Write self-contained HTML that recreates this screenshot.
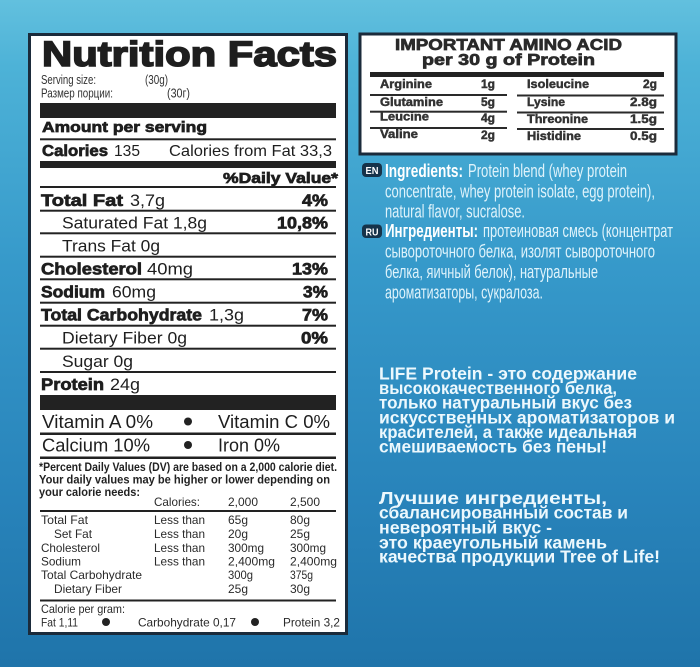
<!DOCTYPE html>
<html><head><meta charset="utf-8"><style>
html,body{margin:0;padding:0;width:700px;height:667px;overflow:hidden;background:#2a86bd}
svg{display:block}
text{font-family:"Liberation Sans","DejaVu Sans",sans-serif}
.k{fill:#1e1e1e}
.b{font-weight:bold}
.h{font-weight:bold;stroke:#1e1e1e;stroke-width:.7}
.a{font-weight:bold;fill:#333;stroke:#333;stroke-width:.45;font-size:11.5px}
.w{fill:#dff3fb;font-size:18px}
.m{fill:#ecf8fd;font-size:17.5px;font-weight:bold}
</style></head><body>
<svg width="700" height="667" viewBox="0 0 700 667" xmlns="http://www.w3.org/2000/svg">
<defs>
<linearGradient id="bg" x1="0" y1="0" x2="0" y2="1">
<stop offset="0" stop-color="#62c0de"/>
<stop offset="0.1" stop-color="#4db2d7"/>
<stop offset="0.4" stop-color="#3699ca"/>
<stop offset="0.75" stop-color="#2883ba"/>
<stop offset="1" stop-color="#1f74aa"/>
</linearGradient>
<radialGradient id="hl" cx="0.5" cy="0" r="0.5">
<stop offset="0" stop-color="#bfeaf6" stop-opacity="0.6"/>
<stop offset="1" stop-color="#bfeaf6" stop-opacity="0"/>
</radialGradient>
</defs>
<rect width="700" height="667" fill="url(#bg)"/>
<ellipse cx="330" cy="0" rx="330" ry="60" fill="url(#hl)"/>

<!-- Nutrition box -->
<rect x="29.5" y="34.5" width="317" height="599" fill="#fff" stroke="#1b2b3b" stroke-width="3"/>
<text class="k h" x="42" y="66" font-size="35" textLength="295" lengthAdjust="spacingAndGlyphs" style="stroke-width:1.6">Nutrition Facts</text>
<text fill="#333" x="41" y="84" font-size="12.5" textLength="55" lengthAdjust="spacingAndGlyphs">Serving size:</text>
<text fill="#333" x="145" y="84" font-size="12.5" textLength="23" lengthAdjust="spacingAndGlyphs">(30g)</text>
<text fill="#333" x="41" y="97.5" font-size="12.5" textLength="72" lengthAdjust="spacingAndGlyphs">Размер порции:</text>
<text fill="#333" x="167" y="97.5" font-size="12.5" textLength="23" lengthAdjust="spacingAndGlyphs">(30г)</text>
<rect x="40" y="103" width="296" height="15" fill="#222"/>
<text class="k h" x="42" y="132" font-size="15" textLength="165" lengthAdjust="spacingAndGlyphs">Amount per serving</text>
<rect x="40" y="138.3" width="296" height="2" fill="#222"/>
<text class="k h" x="42" y="156" font-size="16" textLength="66" lengthAdjust="spacingAndGlyphs">Calories</text>
<text class="k" x="114" y="156" font-size="16" textLength="26" lengthAdjust="spacingAndGlyphs">135</text>
<text class="k" x="169" y="156" font-size="16" textLength="163" lengthAdjust="spacingAndGlyphs">Calories from Fat 33,3</text>
<rect x="40" y="161" width="296" height="7" fill="#222"/>
<text class="k h" x="223" y="183" font-size="15" textLength="115" lengthAdjust="spacingAndGlyphs">%Daily Value*</text>
<rect x="40" y="186" width="296" height="2" fill="#222"/>

<g fill="#222">
<rect x="40" y="209.7" width="296" height="2"/>
<rect x="40" y="232.3" width="296" height="2"/>
<rect x="40" y="255.7" width="296" height="2"/>
<rect x="40" y="278.3" width="296" height="2"/>
<rect x="40" y="301.7" width="296" height="2"/>
<rect x="40" y="324.7" width="296" height="2"/>
<rect x="40" y="347.7" width="296" height="2"/>
<rect x="40" y="371" width="296" height="2"/>
</g>
<g font-size="17">
<text class="k h" x="41" y="206" textLength="82" lengthAdjust="spacingAndGlyphs">Total Fat</text>
<text class="k" x="130" y="206" textLength="35" lengthAdjust="spacingAndGlyphs">3,7g</text>
<text class="k h" x="302" y="206" textLength="26" lengthAdjust="spacingAndGlyphs">4%</text>
<text class="k" x="62" y="228.5" textLength="145" lengthAdjust="spacingAndGlyphs">Saturated Fat 1,8g</text>
<text class="k h" x="277" y="228.5" textLength="51" lengthAdjust="spacingAndGlyphs">10,8%</text>
<text class="k" x="62" y="251.5" textLength="98" lengthAdjust="spacingAndGlyphs">Trans Fat 0g</text>
<text class="k h" x="41" y="274.5" textLength="101" lengthAdjust="spacingAndGlyphs">Cholesterol</text>
<text class="k" x="147" y="274.5" textLength="46" lengthAdjust="spacingAndGlyphs">40mg</text>
<text class="k h" x="292" y="274.5" textLength="36" lengthAdjust="spacingAndGlyphs">13%</text>
<text class="k h" x="41" y="297.5" textLength="64" lengthAdjust="spacingAndGlyphs">Sodium</text>
<text class="k" x="112" y="297.5" textLength="44" lengthAdjust="spacingAndGlyphs">60mg</text>
<text class="k h" x="303" y="297.5" textLength="25" lengthAdjust="spacingAndGlyphs">3%</text>
<text class="k h" x="41" y="320.5" textLength="161" lengthAdjust="spacingAndGlyphs">Total Carbohydrate</text>
<text class="k" x="209" y="320.5" textLength="35" lengthAdjust="spacingAndGlyphs">1,3g</text>
<text class="k h" x="302" y="320.5" textLength="26" lengthAdjust="spacingAndGlyphs">7%</text>
<text class="k" x="62" y="343.5" textLength="125" lengthAdjust="spacingAndGlyphs">Dietary Fiber 0g</text>
<text class="k h" x="301" y="343.5" textLength="27" lengthAdjust="spacingAndGlyphs">0%</text>
<text class="k" x="62" y="367" textLength="71" lengthAdjust="spacingAndGlyphs">Sugar 0g</text>
<text class="k h" x="41" y="390" textLength="63" lengthAdjust="spacingAndGlyphs">Protein</text>
<text class="k" x="110" y="390" textLength="30" lengthAdjust="spacingAndGlyphs">24g</text>
</g>
<rect x="40" y="395" width="296" height="15" fill="#222"/>

<g font-size="18">
<text class="k" x="42" y="428" textLength="111" lengthAdjust="spacingAndGlyphs">Vitamin A 0%</text>
<text class="k" x="218" y="428" textLength="112" lengthAdjust="spacingAndGlyphs">Vitamin C 0%</text>
<text class="k" x="42" y="451.5" textLength="108" lengthAdjust="spacingAndGlyphs">Calcium 10%</text>
<text class="k" x="218" y="451.5" textLength="62" lengthAdjust="spacingAndGlyphs">Iron 0%</text>
</g>
<circle cx="188" cy="421.5" r="4" fill="#222"/>
<circle cx="188" cy="445" r="4" fill="#222"/>
<rect x="40" y="432.5" width="296" height="2.5" fill="#222"/>
<rect x="40" y="456.5" width="296" height="2.5" fill="#222"/>

<g font-size="12" font-weight="bold" fill="#222">
<text x="39" y="471" textLength="298" lengthAdjust="spacingAndGlyphs">*Percent Daily Values (DV) are based on a 2,000 calorie diet.</text>
<text x="39" y="483.5" textLength="291" lengthAdjust="spacingAndGlyphs">Your daily values may be higher or lower depending on</text>
<text x="39" y="496" textLength="101" lengthAdjust="spacingAndGlyphs">your calorie needs:</text>
</g>
<g font-size="12" fill="#2a2a2a">
<text x="154" y="506" textLength="46" lengthAdjust="spacingAndGlyphs">Calories:</text>
<text x="228" y="506" textLength="30" lengthAdjust="spacingAndGlyphs">2,000</text>
<text x="290" y="506" textLength="30" lengthAdjust="spacingAndGlyphs">2,500</text>

<text x="41" y="524" textLength="47" lengthAdjust="spacingAndGlyphs">Total Fat</text>
<text x="154" y="524" textLength="51" lengthAdjust="spacingAndGlyphs">Less than</text>
<text x="228" y="524" textLength="20" lengthAdjust="spacingAndGlyphs">65g</text>
<text x="290" y="524" textLength="20" lengthAdjust="spacingAndGlyphs">80g</text>

<text x="54" y="538" textLength="38" lengthAdjust="spacingAndGlyphs">Set Fat</text>
<text x="154" y="538" textLength="51" lengthAdjust="spacingAndGlyphs">Less than</text>
<text x="228" y="538" textLength="20" lengthAdjust="spacingAndGlyphs">20g</text>
<text x="290" y="538" textLength="20" lengthAdjust="spacingAndGlyphs">25g</text>

<text x="41" y="552" textLength="59" lengthAdjust="spacingAndGlyphs">Cholesterol</text>
<text x="154" y="552" textLength="51" lengthAdjust="spacingAndGlyphs">Less than</text>
<text x="228" y="552" textLength="36" lengthAdjust="spacingAndGlyphs">300mg</text>
<text x="290" y="552" textLength="36" lengthAdjust="spacingAndGlyphs">300mg</text>

<text x="41" y="565.5" textLength="40" lengthAdjust="spacingAndGlyphs">Sodium</text>
<text x="154" y="565.5" textLength="51" lengthAdjust="spacingAndGlyphs">Less than</text>
<text x="228" y="565.5" textLength="47" lengthAdjust="spacingAndGlyphs">2,400mg</text>
<text x="290" y="565.5" textLength="47" lengthAdjust="spacingAndGlyphs">2,400mg</text>

<text x="41" y="579" textLength="101" lengthAdjust="spacingAndGlyphs">Total Carbohydrate</text>
<text x="228" y="579" textLength="25" lengthAdjust="spacingAndGlyphs">300g</text>
<text x="290" y="579" textLength="23" lengthAdjust="spacingAndGlyphs">375g</text>

<text x="54" y="593" textLength="68" lengthAdjust="spacingAndGlyphs">Dietary Fiber</text>
<text x="228" y="593" textLength="20" lengthAdjust="spacingAndGlyphs">25g</text>
<text x="290" y="593" textLength="20" lengthAdjust="spacingAndGlyphs">30g</text>

<text x="41" y="613" textLength="84" lengthAdjust="spacingAndGlyphs">Calorie per gram:</text>
<text x="41" y="626.5" textLength="37" lengthAdjust="spacingAndGlyphs">Fat 1,11</text>
<text x="138" y="626.5" textLength="98" lengthAdjust="spacingAndGlyphs">Carbohydrate 0,17</text>
<text x="283" y="626.5" textLength="57" lengthAdjust="spacingAndGlyphs">Protein 3,2</text>
</g>
<rect x="40" y="510" width="296" height="2" fill="#222"/>
<rect x="40" y="599.5" width="296" height="2" fill="#222"/>
<circle cx="106" cy="622" r="4" fill="#222"/>
<circle cx="255" cy="622" r="4" fill="#222"/>

<!-- Amino box -->
<rect x="360" y="34" width="316" height="120" fill="#fff" stroke="#1b2b3b" stroke-width="3"/>
<text class="k h" x="395" y="50" font-size="16" textLength="227" lengthAdjust="spacingAndGlyphs" style="fill:#2a2a2a;stroke:#2a2a2a">IMPORTANT AMINO ACID</text>
<text class="k h" x="422" y="65" font-size="16" textLength="173" lengthAdjust="spacingAndGlyphs" style="fill:#2a2a2a;stroke:#2a2a2a">per 30 g of Protein</text>
<rect x="370" y="72" width="294" height="5" fill="#222"/>
<g fill="#2a2a2a">
<rect x="370" y="94" width="137" height="2"/>
<rect x="370" y="110.7" width="137" height="2"/>
<rect x="370" y="127" width="137" height="2"/>
<rect x="517" y="94.5" width="147" height="2"/>
<rect x="517" y="111.5" width="147" height="2"/>
<rect x="517" y="128" width="147" height="2"/>
</g>
<text class="a" x="380" y="88" textLength="52" lengthAdjust="spacingAndGlyphs">Arginine</text>
<text class="a" x="481" y="88" textLength="14" lengthAdjust="spacingAndGlyphs">1g</text>
<text class="a" x="380" y="106" textLength="63" lengthAdjust="spacingAndGlyphs">Glutamine</text>
<text class="a" x="481" y="106" textLength="14" lengthAdjust="spacingAndGlyphs">5g</text>
<text class="a" x="380" y="120.5" textLength="49" lengthAdjust="spacingAndGlyphs">Leucine</text>
<text class="a" x="481" y="122" textLength="14" lengthAdjust="spacingAndGlyphs">4g</text>
<text class="a" x="380" y="138" textLength="38" lengthAdjust="spacingAndGlyphs">Valine</text>
<text class="a" x="481" y="139" textLength="14" lengthAdjust="spacingAndGlyphs">2g</text>
<text class="a" x="527" y="88" textLength="62" lengthAdjust="spacingAndGlyphs">Isoleucine</text>
<text class="a" x="643" y="88" textLength="14" lengthAdjust="spacingAndGlyphs">2g</text>
<text class="a" x="527" y="106" textLength="38" lengthAdjust="spacingAndGlyphs">Lysine</text>
<text class="a" x="630" y="106" textLength="27" lengthAdjust="spacingAndGlyphs">2.8g</text>
<text class="a" x="527" y="123" textLength="61" lengthAdjust="spacingAndGlyphs">Threonine</text>
<text class="a" x="630" y="123" textLength="27" lengthAdjust="spacingAndGlyphs">1.5g</text>
<text class="a" x="527" y="140" textLength="54" lengthAdjust="spacingAndGlyphs">Histidine</text>
<text class="a" x="630" y="140" textLength="27" lengthAdjust="spacingAndGlyphs">0.5g</text>

<!-- Ingredients -->
<rect x="362" y="163" width="20" height="14" rx="4" fill="#16334a"/>
<text x="372" y="174" font-size="10" font-weight="bold" fill="#fff" text-anchor="middle" textLength="13" lengthAdjust="spacingAndGlyphs">EN</text>
<rect x="362" y="224.5" width="20" height="13.5" rx="4" fill="#16334a"/>
<text x="372" y="235.5" font-size="10" font-weight="bold" fill="#fff" text-anchor="middle" textLength="13" lengthAdjust="spacingAndGlyphs">RU</text>
<text class="w" x="385" y="177" font-weight="bold" style="fill:#fff" textLength="78" lengthAdjust="spacingAndGlyphs">Ingredients:</text>
<text class="w" x="468" y="177" textLength="159" lengthAdjust="spacingAndGlyphs">Protein blend (whey protein</text>
<text class="w" x="385" y="197.5" textLength="270" lengthAdjust="spacingAndGlyphs">concentrate, whey protein isolate, egg protein),</text>
<text class="w" x="385" y="217.5" textLength="140" lengthAdjust="spacingAndGlyphs">natural flavor, sucralose.</text>
<text class="w" x="385" y="237" font-weight="bold" style="fill:#fff" textLength="93" lengthAdjust="spacingAndGlyphs">Ингредиенты:</text>
<text class="w" x="483" y="237" textLength="190" lengthAdjust="spacingAndGlyphs">протеиновая смесь (концентрат</text>
<text class="w" x="385" y="257.5" textLength="270" lengthAdjust="spacingAndGlyphs">сывороточного белка, изолят  сывороточного</text>
<text class="w" x="385" y="278" textLength="213" lengthAdjust="spacingAndGlyphs">белка, яичный белок), натуральные</text>
<text class="w" x="385" y="298.5" textLength="158" lengthAdjust="spacingAndGlyphs">ароматизаторы, сукралоза.</text>

<!-- Marketing text -->
<text class="m" x="379" y="379.3" textLength="258" lengthAdjust="spacingAndGlyphs">LIFE Protein - это содержание</text>
<text class="m" x="379" y="394" textLength="238" lengthAdjust="spacingAndGlyphs">высококачественного белка,</text>
<text class="m" x="379" y="408.7" textLength="253" lengthAdjust="spacingAndGlyphs">только натуральный вкус без</text>
<text class="m" x="379" y="423.3" textLength="296" lengthAdjust="spacingAndGlyphs">искусственных ароматизаторов и</text>
<text class="m" x="379" y="438" textLength="258" lengthAdjust="spacingAndGlyphs">красителей, а также идеальная</text>
<text class="m" x="379" y="452.5" textLength="228" lengthAdjust="spacingAndGlyphs">смешиваемость без пены!</text>
<text class="m" x="379" y="504" textLength="228" lengthAdjust="spacingAndGlyphs">Лучшие ингредиенты,</text>
<text class="m" x="379" y="518.5" textLength="249" lengthAdjust="spacingAndGlyphs">сбалансированный состав и</text>
<text class="m" x="379" y="533.3" textLength="173" lengthAdjust="spacingAndGlyphs">невероятный вкус -</text>
<text class="m" x="379" y="548.3" textLength="228" lengthAdjust="spacingAndGlyphs">это краеугольный камень</text>
<text class="m" x="379" y="562.7" textLength="281" lengthAdjust="spacingAndGlyphs">качества продукции Tree of Life!</text>
</svg>
</body></html>
